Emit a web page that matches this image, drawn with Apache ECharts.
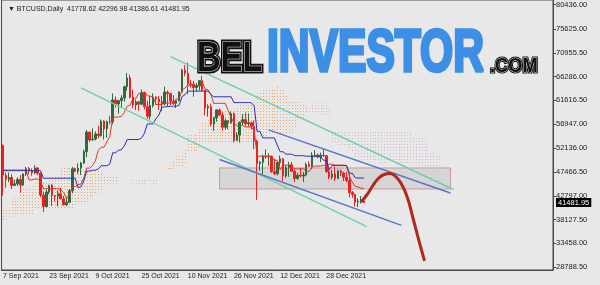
<!DOCTYPE html>
<html><head><meta charset="utf-8">
<script src="https://cdn.jsdelivr.net/npm/echarts@6/dist/echarts.min.js"></script>
<style>html,body{margin:0;padding:0;background:#e8e8e8;}#c{width:600px;height:285px;}</style>
</head><body><div id="c"></div>
<script>
// ---- Daily BTCUSD bars, 7 Sep 2021 .. 10 Jan 2022 (index 0..125) ----
const openP = [52697,46868,46048,46395,44850,45160,46026,44940,47111,48140,
47760,47300,48300,47260,42960,40700,43550,44880,42830,42700,
43200,42200,41030,41520,43800,48140,47670,48230,49250,51500,
55350,53800,53970,54970,54660,57490,56010,57370,57350,61670,
60880,61530,62040,64280,66000,62210,60690,61290,60850,63080,
60330,58450,60590,62250,61880,61300,60910,63220,62930,61400,
61000,61530,63270,67530,66930,64860,64760,64120,64400,65470,
63570,60100,60370,56900,58100,59700,58700,56300,57600,57180,
58970,53700,54770,57290,57800,56950,57180,56500,53600,49150,
49400,50580,50470,50580,47560,47150,49350,50100,46700,48350,
48900,47650,46200,46850,46700,46900,48950,48630,50800,50830,
50430,50800,50700,47550,46470,47120,46200,47730,47300,46450,
45830,43430,43080,41560,41730,41778.62];
const highP = [52920,47381,47400,47040,45970,46460,46880,47250,48500,48490,
48170,48820,48370,47350,43640,44000,44960,45150,42970,43900,
44350,42800,42600,44130,48490,48340,49200,49500,51880,55750,
55400,56100,55480,56560,57840,57680,57600,58580,62950,62350,
61720,62620,64490,67000,66640,63730,61740,61490,63710,63290,
61500,62500,62980,62350,62420,62440,64270,63500,63120,62600,
61560,63290,67790,68530,69000,65600,65460,65000,65550,66400,
63570,60800,60950,58370,59850,60000,59250,58000,57700,59400,
59200,55300,57400,58870,59200,59050,57400,57600,53860,49700,
50900,51950,51180,50780,50100,49500,50700,50200,48700,49500,
49450,48000,47350,48300,47500,49330,49600,51380,51800,51150,
51300,52000,50700,48150,47900,48550,47950,47950,47550,47500,
47070,43750,43140,42300,42750,42296.98];
const lowP = [42843,44412,45500,44135,44750,44740,43370,44700,46700,47030,
46750,47050,46850,42500,39600,40550,43100,40800,41650,40750,
42100,40900,40770,41400,43300,47450,47100,46900,49050,50400,
53400,53650,53700,54100,54420,53880,54250,56860,56850,60150,
58960,60150,61320,63480,62000,60000,59680,59530,60650,59820,
58000,57820,60170,60720,59700,59460,60620,60380,60680,60720,
60100,61380,63100,66330,62820,64100,62300,63360,63570,63400,
58600,58400,56500,55600,57400,58500,55650,55800,55900,57000,
53300,53650,53300,56700,56500,56450,55850,52000,42000,47700,
47100,50100,48700,47300,46900,46800,48650,45700,46300,46550,
47500,45500,45950,46400,45550,46650,48450,48050,50400,50200,
49450,50450,47300,46100,46000,45700,46200,46700,45700,45500,
42500,42450,40700,40600,41280,41386.61];
const closeP = [46863,46048,46395,44850,45160,46026,44940,47111,48140,47760,
47300,48300,47260,42960,40700,43550,44880,42830,42700,43200,
42200,41030,41520,43800,48140,47670,48230,49250,51500,55350,
53800,53970,54970,54660,57490,56010,57370,57350,61670,60880,
61530,62040,64280,66000,62210,60690,61290,60850,63080,60330,
58450,60590,62250,61880,61300,60910,63220,62930,61400,61000,
61530,63270,67530,66930,64860,64760,64120,64400,65470,63570,
60100,60370,56900,58100,59700,58700,56300,57600,57180,58970,
53700,54770,57290,57800,56950,57180,56500,53600,49150,49400,
50580,50470,50580,47560,47150,49350,50100,46700,48350,48900,
47650,46200,46850,46700,46900,48950,48630,50800,50830,50430,
50800,50700,47550,46470,47120,46200,47730,47300,46450,45830,
43430,43080,41560,41730,41780,41481.95];

// Ichimoku lines
const tenkan = [47880,47880,47880,47880,47880,47880,47880,47880,47880,45935,
45935,46095,46095,45660,44210,44210,44210,44210,44210,44210,
43985,43475,42375,42850,44620,44620,44975,45125,46325,48260,
48260,48750,49700,51730,52370,52370,53445,54490,58175,58300,
58325,58415,59185,60440,60625,61925,61925,62980,62980,63265,
62500,62410,62230,60775,60765,60765,61045,61045,61045,61045,
61865,61865,63625,63995,64550,64550,64550,64550,64550,65190,
63800,63700,62750,61000,61000,61000,61000,61000,59585,58275,
57125,56650,56650,56650,56350,56350,56350,55700,50600,50600,
50600,50600,50600,50525,49800,49800,47930,48825,48825,48825,
48440,48140,48100,48100,48100,47850,47550,48440,48650,48650,
48675,48775,48775,49050,49000,48850,48850,48850,48850,48750,
46600,45500,44625,44575,44275,44275];
const kijun = [47750,47750,47750,47750,47750,47750,47750,47750,47750,47750,
47750,47750,47750,47750,46260,46260,46260,46260,46260,46260,
46260,46260,46260,46260,46260,46260,44400,44550,45740,47675,
47675,47850,47850,48080,48720,48720,48720,49090,51275,51275,
51750,51850,52620,53875,53875,53885,53885,53885,54200,55150,
56950,56950,56950,58025,58700,60200,60325,60350,60440,60440,
60440,60625,62320,62690,63410,63410,63410,63410,63410,63410,
63410,63410,62750,62300,62300,62300,62300,62300,62300,62300,
61150,61150,61150,61150,61150,61150,61150,60500,55500,55500,
54200,54200,54200,54200,54200,52785,51475,51475,51000,51000,
51000,50700,50700,50700,50700,50600,50600,50600,50600,50600,
50525,49800,49800,47930,48750,48750,48750,48750,48750,48750,
47250,47225,46350,46300,46300,46300];
// cloud (drawn 26 bars ahead), index 0..151
const spanA = [40000,40000,40000,42300,42300,42300,44600,44600,44600,44600,
44600,45500,45500,45500,45500,45500,46800,46800,46800,46800,
48400,48400,48400,48400,48400,48400,47800,47800,47800,47800,
47800,47800,47800,47800,47815,46840,46840,46920,46920,46705,
45235,45235,45235,45235,45235,45235,45120,44870,44320,44555,
45440,45440,44690,44840,46030,47970,47970,48300,48775,49905,
50545,50545,51080,51790,54725,54790,55040,55130,55900,57160,
57250,57905,57905,58430,58590,59210,59725,59680,59590,59400,
59730,60480,60685,60700,60740,60740,61150,61245,62970,63340,
63980,63980,63980,63980,63980,64300,63605,63555,62750,61650,
61650,61650,61650,61650,60940,60290,59140,58900,58900,58900,
58750,58750,58750,58100,53050,53050,52400,52400,52400,52360,
52000,51290,49700,50150,49910,49910,49720,49420,49400,49400,
49400,49225,49075,49520,49625,49625,49600,49290,49290,48490,
48875,48800,48800,48800,48800,48750,46925,46360,45490,45440,
45290,45290];
const spanB = [37600,38700,38700,38700,39200,39200,39200,39200,39200,39200,
39200,40000,40000,40000,40000,40000,40000,40000,40000,40000,
40000,40000,40000,40000,40000,41050,41150,41150,41150,41150,
42300,42450,43150,43400,44050,44650,45200,45200,45200,45200,
45200,45200,45200,45200,45100,46250,46250,46250,46250,46250,
46250,46250,46250,46250,46250,47675,47675,47850,47850,48080,
48720,48720,48720,49090,51275,51275,51275,51275,52045,53300,
53300,53300,53300,53300,53300,53300,53300,53300,53300,53300,
53300,53300,53300,53300,53300,53300,53300,53300,53695,54065,
54300,54300,54775,54875,54875,54875,54875,54885,54885,54885,
55200,56150,57950,57950,57950,59025,59700,61150,61150,61150,
61150,61150,61150,60500,55500,55500,55500,55500,55500,55500,
55500,55500,55500,55500,55500,55500,55500,55500,55500,55500,
55500,55500,55500,55500,55500,55500,55500,55500,55500,55500,
55500,55500,54200,54200,54200,54200,54200,52785,51475,51475,
51000,51000];

// hand-drawn analysis objects, as [bar index, price]
const greenUpper = [[58, 70186], [156, 44044]];
const greenLower = [[27, 64064], [126, 36741]];
const blueUpper = [[92, 55776], [155, 43355]];
const blueLower = [[75, 49950], [138, 36978]];
const zoneBox = [[75, 48277], [155, 44143]];
const forecastPath = [[124, 41584], [126, 42962], [128, 44734], [130, 46210], [132, 46997],
  [134, 47193], [136, 46603], [138, 45127], [140, 42568], [142, 38434], [144, 34103], [146, 30000]];

// axes
const barSlots = 191;
const xTickIdx = [0, 16, 32, 48, 64, 80, 96, 112];
const xTickLabels = ['7 Sep 2021', '23 Sep 2021', '9 Oct 2021', '25 Oct 2021', '10 Nov 2021', '26 Nov 2021', '12 Dec 2021', '28 Dec 2021'];
const yTickLabels = ['28788.50', '33458.00', '38127.50', '42797.00', '47466.50', '52136.00', '56947.00', '61616.50', '66286.00', '70955.50', '75625.00', '80436.00'];
const yMin = 28198, yMax = 81347;

const cats = Array.from({length: barSlots}, (_, i) => String(i));
const candles = openP.map((o, i) => [o, closeP[i], lowP[i], highP[i]]);
const labelAt = {};
xTickIdx.forEach((k, n) => { labelAt[k] = xTickLabels[n]; });
const yTicks = yTickLabels.map(Number);
const last = openP.length - 1;
const header = '\u25BC BTCUSD,Daily  ' + [openP[last], highP[last], lowP[last], closeP[last]].map(v => v.toFixed(2)).join(' ');
const cloudData = spanA.map((a, j) => [j, a, spanB[j]]);

const chart = echarts.init(document.getElementById('c'));
const FONT = '"Liberation Sans", Arial, sans-serif';
const chanLine = (data, color) => ({
  type: 'line', data: data, symbol: 'none', silent: true, z: 5,
  lineStyle: {color: color, width: 1.4}
});

chart.setOption({
  backgroundColor: '#e8e8e8',
  animation: false,
  textStyle: {fontFamily: FONT},
  title: {text: header, left: 3, top: 1, textStyle: {fontSize: 7, fontWeight: 'normal', color: '#222', fontFamily: FONT}},
  grid: {left: 0.5, right: 47, top: 0, bottom: 15, show: true, borderColor: '#4a4a4a', borderWidth: 1},
  xAxis: {
    type: 'category', data: cats, boundaryGap: true,
    axisLine: {lineStyle: {color: '#4a4a4a'}},
    axisTick: {alignWithLabel: true, interval: (i) => (i in labelAt), length: 3, lineStyle: {color: '#4a4a4a'}},
    axisLabel: {interval: (i) => (i in labelAt), formatter: (v, i) => labelAt[i] || '', align: 'left', fontSize: 7, color: '#222', margin: 3},
    splitLine: {show: false}
  },
  yAxis: {
    type: 'value', position: 'right', min: yMin, max: yMax,
    axisLine: {show: true, lineStyle: {color: '#4a4a4a'}},
    axisTick: {show: true, customValues: yTicks, length: 3, lineStyle: {color: '#4a4a4a'}},
    axisLabel: {customValues: yTicks, formatter: (v) => Number(v).toFixed(2), fontSize: 7.5, color: '#222', margin: 3},
    splitLine: {show: false}
  },
  series: [
    {
      type: 'custom', data: cloudData, z: 1, silent: true,
      encode: {x: 0, y: [1, 2]},
      renderItem: function (params, api) {
        const j = api.value(0), a = api.value(1), b = api.value(2);
        const pa = api.coord([j, a]), pb = api.coord([j, b]);
        const x = Math.round(pa[0]) + 0.5;
        const y1 = Math.min(pa[1], pb[1]), y2 = Math.max(pa[1], pb[1]);
        return {type: 'line', shape: {x1: x, y1: y1, x2: x, y2: y2},
          style: {stroke: a >= b ? '#f2a468' : '#d4b4d4', lineWidth: 1, lineDash: [1, 2], lineDashOffset: y1 % 3}};
      }
    },
    {
      type: 'candlestick', data: candles, barWidth: 2, z: 3, clip: false,
      itemStyle: {color: '#2e6a3b', color0: '#e8231f', borderColor: '#2e6a3b', borderColor0: '#e8231f', borderWidth: 1},
      markArea: {silent: true, itemStyle: {color: 'rgba(150,150,150,0.22)', borderColor: '#c99a9a', borderWidth: 1},
        data: [[{xAxis: zoneBox[0][0], yAxis: zoneBox[0][1]}, {xAxis: zoneBox[1][0], yAxis: zoneBox[1][1]}]]}
    },
    {
      type: 'line', data: [], silent: true, z: 20,
      markLine: {symbol: 'none', silent: true, animation: false,
        lineStyle: {color: 'rgba(0,0,0,0)', width: 0.01, type: 'solid'},
        label: {show: true, position: 'end', formatter: (p) => Number(p.value).toFixed(2), backgroundColor: '#000', color: '#fff', fontSize: 7.5, padding: [1, 2, 0, 2], distance: 3},
        data: [{yAxis: closeP[last]}]}
    },
    {type: 'line', data: tenkan, symbol: 'none', silent: true, z: 4, lineStyle: {color: '#e0332b', width: 1}},
    {type: 'line', data: kijun, symbol: 'none', silent: true, z: 4, lineStyle: {color: '#2a2fb0', width: 1}},
    chanLine(greenUpper, '#6fcfa5'),
    chanLine(greenLower, '#6fcfa5'),
    chanLine(blueUpper, '#5577c8'),
    chanLine(blueLower, '#5577c8'),
    {
      type: 'line', data: forecastPath.map((p, k) => k === forecastPath.length - 1 ?
        {value: p, symbol: 'triangle', symbolSize: [9, 11], symbolRotate: 193, symbolOffset: [0, 3]} : {value: p, symbol: 'none'}),
      smooth: 0.5, showSymbol: true, silent: true, z: 6,
      lineStyle: {color: '#b3281c', width: 3}, itemStyle: {color: '#b3281c'}
    }
  ],
  graphic: [
    {type: 'text', x: 197, y: 80, scaleX: 0.78, z: 100, style: {text: 'BEL', x: 0, y: 0, font: 'bold 42px "Liberation Sans"', fill: '#111', stroke: '#111', lineWidth: 5, verticalAlign: 'bottom'}},
    {type: 'text', x: 197, y: 80, scaleX: 0.78, z: 101, style: {text: 'BEL', x: 0, y: 0, font: 'bold 42px "Liberation Sans"', fill: '#111', stroke: '#eeeeee', lineWidth: 1.2, verticalAlign: 'bottom'}},
    {type: 'text', x: 267, y: 84, scaleX: 0.71, z: 100, style: {text: 'INVESTOR', x: 0, y: 0, font: 'bold 60px "Liberation Sans"', fill: '#3d8fe6', stroke: '#3d8fe6', lineWidth: 3.5, verticalAlign: 'bottom'}},
    {type: 'text', x: 490, y: 77, scaleX: 0.87, z: 100, style: {text: '.COM', x: 0, y: 0, font: 'bold 21px "Liberation Sans"', fill: '#111', stroke: '#111', lineWidth: 3, verticalAlign: 'bottom'}},
    {type: 'text', x: 490, y: 77, scaleX: 0.87, z: 101, style: {text: '.COM', x: 0, y: 0, font: 'bold 21px "Liberation Sans"', fill: '#111', stroke: '#eeeeee', lineWidth: 0.8, verticalAlign: 'bottom'}}
  ]
});
</script>
</body></html>
